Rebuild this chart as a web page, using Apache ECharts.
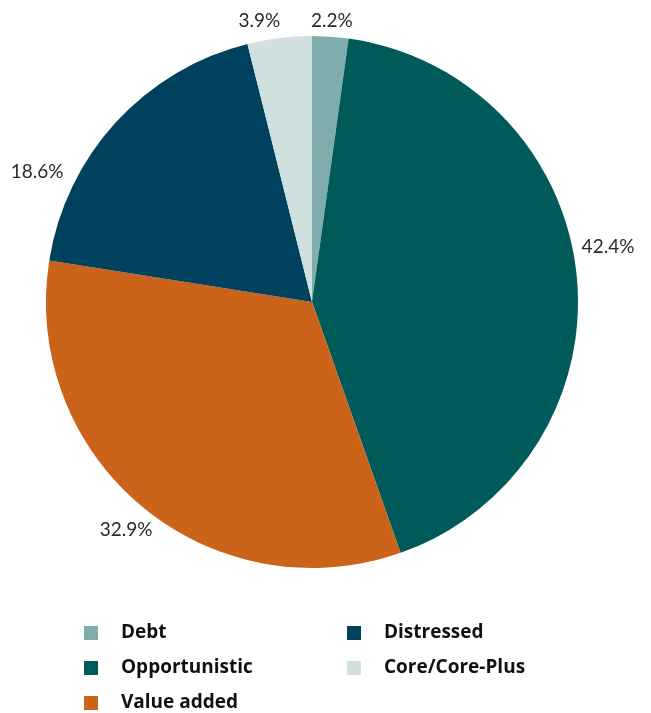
<!DOCTYPE html>
<html>
<head>
<meta charset="utf-8">
<script src="https://cdn.jsdelivr.net/npm/echarts@6/dist/echarts.min.js"></script>
<style>
  html, body { margin: 0; padding: 0; background: #ffffff; }
  #chart { width: 651px; height: 713px; }
</style>
</head>
<body>
<div id="chart"></div>
<script>
// Strategy mix, share of total (%)
const categories = ['Debt', 'Opportunistic', 'Value added', 'Distressed', 'Core/Core-Plus'];
const shares = [2.2, 42.4, 32.9, 18.6, 3.9];
const colors = ['#7fadab', '#005a5a', '#cc631b', '#00425e', '#d0e0e0'];

// Legend columns (filled top to bottom)
const legendLeft = ['Debt', 'Opportunistic', 'Value added'];
const legendRight = ['Distressed', 'Core/Core-Plus'];

// Small nudges for the percentage labels, in slice order
const labelNudge = [[-25, -6], [-10, -27], [22, 16], [-40, 56], [7, -7]];

const chart = echarts.init(document.getElementById('chart'));

const legendBase = {
  orient: 'vertical',
  top: 622,
  height: 100,
  padding: 0,
  icon: 'rect',
  itemWidth: 14,
  itemHeight: 14,
  itemGap: 13,
  selectedMode: false,
  textStyle: {
    fontFamily: '"Open Sans", sans-serif',
    fontWeight: 'bold',
    fontSize: 19,
    lineHeight: 22,
    color: '#111111',
    padding: [0, 0, 0, 18]
  }
};

chart.setOption({
  animation: false,
  color: colors,
  legend: [
    Object.assign({}, legendBase, { left: 84, data: legendLeft }),
    Object.assign({}, legendBase, { left: 347, data: legendRight })
  ],
  series: [{
    type: 'pie',
    center: [312, 302],
    radius: 266,
    startAngle: 90,
    clockwise: true,
    avoidLabelOverlap: false,
    data: categories.map((name, i) => ({ name, value: shares[i] })),
    label: {
      show: true,
      position: 'outside',
      formatter: p => p.value.toFixed(1) + '%',
      fontFamily: 'Lato, sans-serif',
      fontWeight: 'normal',
      fontSize: 19,
      color: '#2a2a2a'
    },
    labelLine: { show: false, length: 10, length2: 0 },
    labelLayout: p => ({ dx: labelNudge[p.dataIndex][0], dy: labelNudge[p.dataIndex][1] }),
    itemStyle: { borderWidth: 0 },
    emphasis: { disabled: true }
  }]
});
</script>
</body>
</html>
